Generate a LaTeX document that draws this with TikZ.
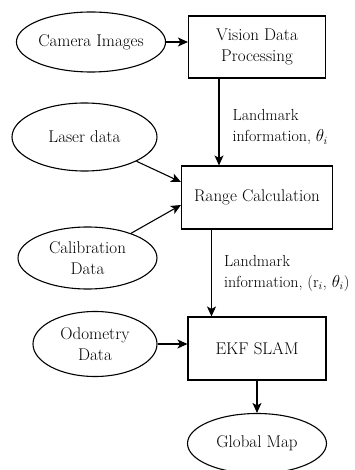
\documentclass[tikz,border=0pt]{standalone}
\usetikzlibrary{positioning, arrows.meta, shapes.geometric}

\begin{document}
\begin{tikzpicture}[
      on grid,
      line width=1.1pt,
      >={Stealth[length=10pt, width=9pt, inset=2.5pt]},
      every node/.style={font=\fontsize{17}{21}\selectfont},
      source/.style={draw, ellipse, inner sep=0pt, align=center},
      block/.style={draw, rectangle, inner sep=0pt, align=center},
      info/.style={anchor=west, align=left, inner sep=0pt, font=\fontsize{16}{21}\selectfont},
    ]
    \useasboundingbox (-257pt,47pt) rectangle (98pt,-423pt);

    \node[block, minimum width=137pt, minimum height=62pt]                (vis)    {Vision Data\\Processing};
    \node[source, minimum width=141pt, minimum height=60pt,
          above left=5pt and 166pt of vis]                                 (cam)    {Camera Images};
    \node[block, minimum width=151pt, minimum height=63pt,
          below=150.5pt of vis]                                            (range)  {Range Calculation};
    \node[source, minimum width=145pt, minimum height=68pt,
          above left=60.5pt and 172.5pt of range]                          (laser)  {Laser data};
    \node[source, minimum width=139pt, minimum height=62pt,
          below left=60.5pt and 169.5pt of range]                          (calib)  {Calibration\\Data};
    \node[block, minimum width=138pt, minimum height=63pt,
          below=151pt of range]                                            (ekf)    {EKF SLAM};
    \node[source, minimum width=124pt, minimum height=65pt,
          above left=4.5pt and 162pt of ekf]                               (odo)    {Odometry\\Data};
    \node[source, minimum width=139pt, minimum height=60pt,
          below=95pt of ekf]                                               (map)    {Global Map};

    \draw[->] (cam.east) -- (cam.east -| vis.west);
    \draw[->] ([xshift=-38pt]vis.south) -- ([xshift=-38pt]vis.south |- range.north)
      node[info, midway, xshift=13pt, yshift=-5pt] {Landmark\\information, $\theta_i$};
    \draw[->] (laser) -- ([yshift=15.5pt]range.west);
    \draw[->] (calib) -- ([yshift=-7.5pt]range.west);
    \draw[->] ([xshift=-45.5pt]range.south) -- ([xshift=-45.5pt]range.south |- ekf.north)
      node[info, midway, xshift=12pt] {Landmark\\information, (r$_i$, $\theta_i$)};
    \draw[->] (odo.east) -- (odo.east -| ekf.west);
    \draw[->] (ekf) -- (map);

  \end{tikzpicture}
\end{document}
